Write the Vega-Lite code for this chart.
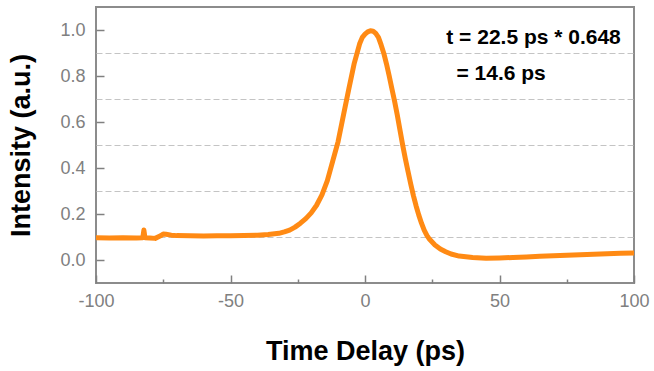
{
  "$schema": "https://vega.github.io/schema/vega-lite/v6.json",
  "width": 538,
  "height": 276,
  "autosize": {"type": "none"},
  "padding": {"left": 96, "top": 7, "right": 20, "bottom": 88},
  "background": "white",
  "config": {
    "view": {"stroke": "#8c8c8c", "strokeWidth": 2},
    "font": "Liberation Sans"
  },
  "resolve": {"axis": {"x": "independent", "y": "independent"}},
  "layer": [
    {
      "data": {
        "values": [
          {"t": -100, "v": 0.097}, {"t": -95, "v": 0.096}, {"t": -90, "v": 0.097},
          {"t": -85, "v": 0.096}, {"t": -82.6, "v": 0.097}, {"t": -82.2, "v": 0.13},
          {"t": -81.8, "v": 0.097}, {"t": -80, "v": 0.096}, {"t": -78, "v": 0.094},
          {"t": -76, "v": 0.105}, {"t": -75, "v": 0.113}, {"t": -74, "v": 0.112},
          {"t": -72, "v": 0.108}, {"t": -70, "v": 0.106}, {"t": -65, "v": 0.105},
          {"t": -60, "v": 0.104}, {"t": -55, "v": 0.105}, {"t": -50, "v": 0.105},
          {"t": -45, "v": 0.106}, {"t": -40, "v": 0.108}, {"t": -36, "v": 0.111},
          {"t": -32, "v": 0.116}, {"t": -30, "v": 0.122}, {"t": -28, "v": 0.13},
          {"t": -26, "v": 0.143}, {"t": -24, "v": 0.16}, {"t": -22, "v": 0.18},
          {"t": -20, "v": 0.205}, {"t": -18, "v": 0.238}, {"t": -16, "v": 0.283},
          {"t": -14, "v": 0.345}, {"t": -12, "v": 0.43}, {"t": -10, "v": 0.515},
          {"t": -8, "v": 0.63}, {"t": -6, "v": 0.745}, {"t": -4, "v": 0.855},
          {"t": -2, "v": 0.94}, {"t": -1, "v": 0.968}, {"t": 0, "v": 0.982},
          {"t": 1, "v": 0.992}, {"t": 2, "v": 0.997}, {"t": 3, "v": 0.995},
          {"t": 4, "v": 0.985}, {"t": 5, "v": 0.968}, {"t": 6, "v": 0.935},
          {"t": 7, "v": 0.898}, {"t": 8, "v": 0.852}, {"t": 9, "v": 0.8},
          {"t": 10, "v": 0.745}, {"t": 11, "v": 0.69}, {"t": 12, "v": 0.63},
          {"t": 13, "v": 0.565}, {"t": 14, "v": 0.5}, {"t": 15, "v": 0.44},
          {"t": 16, "v": 0.385}, {"t": 17, "v": 0.33}, {"t": 18, "v": 0.28},
          {"t": 19, "v": 0.235}, {"t": 20, "v": 0.195}, {"t": 21, "v": 0.16},
          {"t": 22, "v": 0.13}, {"t": 23, "v": 0.107}, {"t": 24, "v": 0.09},
          {"t": 26, "v": 0.065}, {"t": 28, "v": 0.048}, {"t": 30, "v": 0.036},
          {"t": 32, "v": 0.026}, {"t": 35, "v": 0.017}, {"t": 40, "v": 0.011},
          {"t": 45, "v": 0.008}, {"t": 50, "v": 0.009}, {"t": 55, "v": 0.011},
          {"t": 60, "v": 0.013}, {"t": 65, "v": 0.016}, {"t": 70, "v": 0.018},
          {"t": 75, "v": 0.021}, {"t": 80, "v": 0.023}, {"t": 85, "v": 0.025},
          {"t": 90, "v": 0.027}, {"t": 95, "v": 0.029}, {"t": 100, "v": 0.03}
        ]
      },
      "mark": {"type": "line", "color": "#ff8a14", "strokeWidth": 5, "strokeJoin": "round", "strokeCap": "round", "clip": true},
      "encoding": {
        "x": {
          "field": "t", "type": "quantitative",
          "scale": {"domain": [-100, 100], "nice": false},
          "axis": {
            "orient": "bottom",
            "values": [-100, -50, 0, 50, 100],
            "labelExpr": "'' + datum.value",
            "labelFlush": false,
            "labelFontSize": 18, "labelColor": "#808080", "labelPadding": 17,
            "domain": false, "grid": false,
            "tickColor": "#808080", "tickWidth": 1.5, "tickSize": -8,
            "title": "Time Delay (ps)", "titleFontSize": 27, "titleFontWeight": "bold",
            "titleColor": "black", "titlePadding": 28
          }
        },
        "y": {
          "field": "v", "type": "quantitative",
          "scale": {"domain": [-0.1, 1.1], "nice": false, "zero": false},
          "axis": {
            "orient": "left",
            "values": [0, 0.2, 0.4, 0.6, 0.8, 1.0],
            "format": ".1f",
            "labelFontSize": 18, "labelColor": "#808080", "labelPadding": 19,
            "domain": false, "grid": false,
            "tickColor": "#808080", "tickWidth": 1.5, "tickSize": -8,
            "title": "Intensity (a.u.)", "titleFontSize": 27, "titleFontWeight": "bold",
            "titleColor": "black", "titlePadding": 24
          }
        }
      }
    },
    {
      "data": {
        "values": [
          {"t": 95.1, "v": 0.967, "label": "t = 22.5 ps * 0.648"},
          {"t": 67.2, "v": 0.808, "label": "= 14.6 ps"}
        ]
      },
      "mark": {"type": "text", "align": "right", "baseline": "middle", "fontWeight": "bold", "fontSize": 21, "color": "black"},
      "encoding": {
        "x": {
          "field": "t", "type": "quantitative",
          "axis": {
            "orient": "bottom",
            "values": [-75, -25, 25, 75],
            "labels": false, "domain": false, "grid": false, "title": null,
            "tickColor": "#808080", "tickWidth": 1.5, "tickSize": -4
          }
        },
        "y": {
          "field": "v", "type": "quantitative",
          "axis": {
            "orient": "left",
            "values": [0.1, 0.3, 0.5, 0.7, 0.9],
            "labels": false, "domain": false, "ticks": false, "title": null,
            "grid": true, "gridDash": [6, 3], "gridColor": "#c4c4c4", "gridWidth": 1
          }
        },
        "text": {"field": "label"}
      }
    }
  ]
}
